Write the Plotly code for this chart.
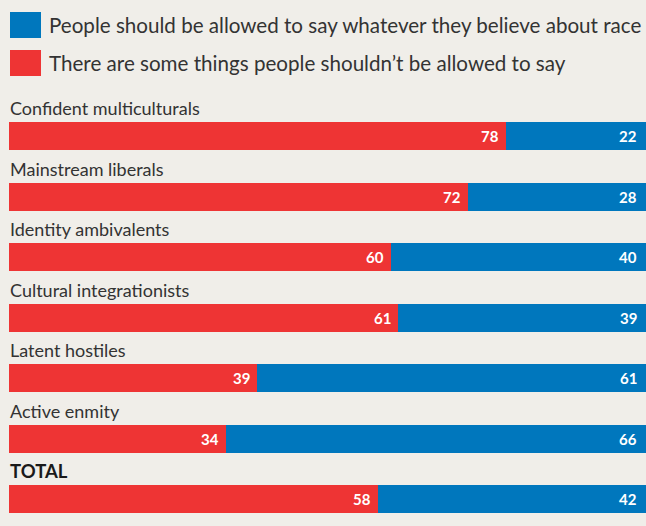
import plotly.graph_objects as go

# Survey groups, top to bottom
groups = ["Confident multiculturals", "Mainstream liberals", "Identity ambivalents",
          "Cultural integrationists", "Latent hostiles", "Active enmity", "TOTAL"]
# % saying there are some things people shouldn't be allowed to say
restrict = [78, 72, 60, 61, 39, 34, 58]
# % saying people should be allowed to say whatever they believe about race
free_speech = [22, 28, 40, 39, 61, 66, 42]

series_names = ["People should be allowed to say whatever they believe about race",
                "There are some things people shouldn\u2019t be allowed to say"]

RED = "#ee3434"
BLUE = "#0077bd"
BG = "#f0eee9"
TEXT = "#333333"
FONT = "Lato"

W, H = 646, 526
ML = 9


def px_x(p):
    return (p - ML) / (W - ML)


def px_y(p):
    return 1 - p / H


fig = go.Figure()
fig.add_bar(y=groups, x=restrict, orientation="h", marker=dict(color=RED, line=dict(width=0)),
            width=0.463, name=series_names[1], showlegend=False, hoverinfo="skip")
fig.add_bar(y=groups, x=free_speech, orientation="h", marker=dict(color=BLUE, line=dict(width=0)),
            width=0.463, name=series_names[0], showlegend=False, hoverinfo="skip")

annotations = []
for g, r, f in zip(groups, restrict, free_speech):
    is_total = g == "TOTAL"
    # group heading above each bar
    annotations.append(dict(
        x=0, y=g, xref="x", yref="y", xanchor="left", yanchor="bottom",
        yshift=15, xshift=-1, showarrow=False, text=f"<b>{g}</b>" if is_total else g,
        font=dict(family=FONT, size=18.5 if is_total else 18,
                  color="#1a1a1a" if is_total else TEXT)))
    # value labels at the end of each segment
    annotations.append(dict(
        x=r, y=g, xref="x", yref="y", xanchor="right", yanchor="middle",
        xshift=-5, showarrow=False, text=f"<b>{r}</b>",
        font=dict(family=FONT, size=15, color="white")))
    annotations.append(dict(
        x=r + f, y=g, xref="x", yref="y", xanchor="right", yanchor="middle",
        xshift=-7, showarrow=False, text=f"<b>{f}</b>",
        font=dict(family=FONT, size=15, color="white")))

# legend: coloured squares with text
shapes = []
for (top, bot), colour, name in [((12, 38), BLUE, series_names[0]), ((50, 76), RED, series_names[1])]:
    shapes.append(dict(type="rect", xref="paper", yref="paper",
                       x0=px_x(10), x1=px_x(41), y0=px_y(bot), y1=px_y(top),
                       fillcolor=colour, line=dict(width=0)))
    annotations.append(dict(
        x=px_x(47), y=px_y((top + bot) / 2), xref="paper", yref="paper",
        xanchor="left", yanchor="middle", showarrow=False, text=name,
        font=dict(family=FONT, size=20.6, color=TEXT)))

fig.update_layout(
    width=W, height=H,
    margin=dict(l=ML, r=0, t=0, b=0),
    paper_bgcolor=BG, plot_bgcolor=BG,
    barmode="stack", bargap=0,
    xaxis=dict(range=[0, 100], visible=False, fixedrange=True),
    yaxis=dict(type="category", range=[6.446, -2.248], visible=False, fixedrange=True),
    annotations=annotations, shapes=shapes,
    font=dict(family=FONT),
)

fig.write_html("out.html", config={"displayModeBar": False})
